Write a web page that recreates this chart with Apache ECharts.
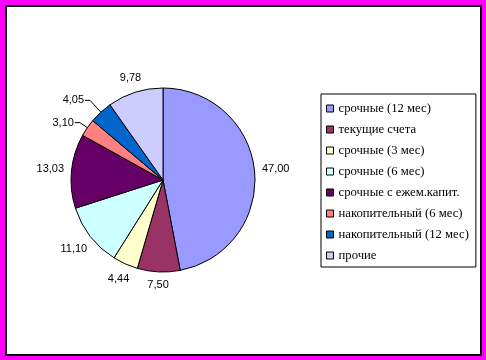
<!DOCTYPE html>
<html><head><meta charset="utf-8">
<script src="https://cdn.jsdelivr.net/npm/echarts@6/dist/echarts.min.js"></script>
<style>html,body{margin:0;padding:0;background:#fff}#c{width:486px;height:360px}</style>
</head><body><div id="c"></div>
<script>
const categories = ['срочные (12 мес)','текущие счета','срочные (3 мес)','срочные (6 мес)','срочные с ежем.капит.','накопительный (6 мес)','накопительный (12 мес)','прочие'];
const values = [47.00, 7.50, 4.44, 11.10, 13.03, 3.10, 4.05, 9.78];
const colors = ['#9999FF','#993366','#FFFFCC','#CCFFFF','#660066','#FF8080','#0066CC','#CCCCFF'];
const leaderLabels = ['накопительный (6 мес)','накопительный (12 мес)'];
const leaderLength = {'накопительный (6 мес)': 9, 'накопительный (12 мес)': 16};
const labelGap = 7;

const chart = echarts.init(document.getElementById('c'), null, {renderer: 'canvas'});
const data = categories.map((n, i) => {
  const hasLeader = leaderLabels.indexOf(n) >= 0;
  return {
    name: n, value: values[i],
    itemStyle: {color: colors[i]},
    labelLine: hasLeader
      ? {length: leaderLength[n], length2: 5, lineStyle: {opacity: 1}}
      : {lineStyle: {opacity: 0}}
  };
});
chart.setOption({
  animation: false,
  backgroundColor: '#fff',
  graphic: [
    {type: 'rect', z: -10, silent: true, shape: {x: 0, y: 0, width: 486, height: 360}, style: {fill: '#FF00FF'}},
    {type: 'rect', z: -9, silent: true, shape: {x: 5, y: 5, width: 477, height: 351}, style: {fill: '#fff'}},
    {type: 'rect', z: -8, silent: true, shape: {x: 6, y: 6, width: 475, height: 349}, style: {fill: 'none', stroke: '#000', lineWidth: 2}}
  ],
  legend: {
    orient: 'vertical', left: 321, top: 94,
    padding: [8, 7, 5, 5],
    itemWidth: 7, itemHeight: 7, itemGap: 8,
    icon: 'rect',
    borderColor: '#000', borderWidth: 1,
    selectedMode: false,
    itemStyle: {borderColor: '#000', borderWidth: 1},
    textStyle: {fontFamily: 'Liberation Serif', fontSize: 12.7, color: '#000', lineHeight: 12},
    data: categories
  },
  series: [{
    type: 'pie',
    center: [163, 180], radius: 92,
    startAngle: 90, clockwise: true,
    avoidLabelOverlap: false,
    silent: true,
    itemStyle: {borderColor: '#000', borderWidth: 1},
    label: {
      show: true, position: 'outside',
      fontFamily: 'Liberation Sans', fontSize: 11, color: '#000',
      distanceToLabelLine: 1,
      formatter: p => p.value.toFixed(2).replace('.', ',')
    },
    labelLine: {show: true, length: 15, length2: 5, smooth: false, lineStyle: {color: '#000', width: 1}},
    labelLayout: function (p) {
      const name = categories[p.dataIndex];
      const pts = p.labelLinePoints;
      if (!pts || leaderLabels.indexOf(name) >= 0) return {};
      const dx = pts[1][0] - pts[0][0], dy = pts[1][1] - pts[0][1];
      const L = Math.hypot(dx, dy) || 1;
      const ux = dx / L, uy = dy / L;
      const w = p.labelRect.width, h = p.labelRect.height;
      const s = labelGap + Math.abs(ux) * w / 2 + Math.abs(uy) * h / 2;
      return {x: pts[0][0] + ux * s, y: pts[0][1] + uy * s, align: 'center', verticalAlign: 'middle'};
    },
    data: data
  }]
});
</script></body></html>
